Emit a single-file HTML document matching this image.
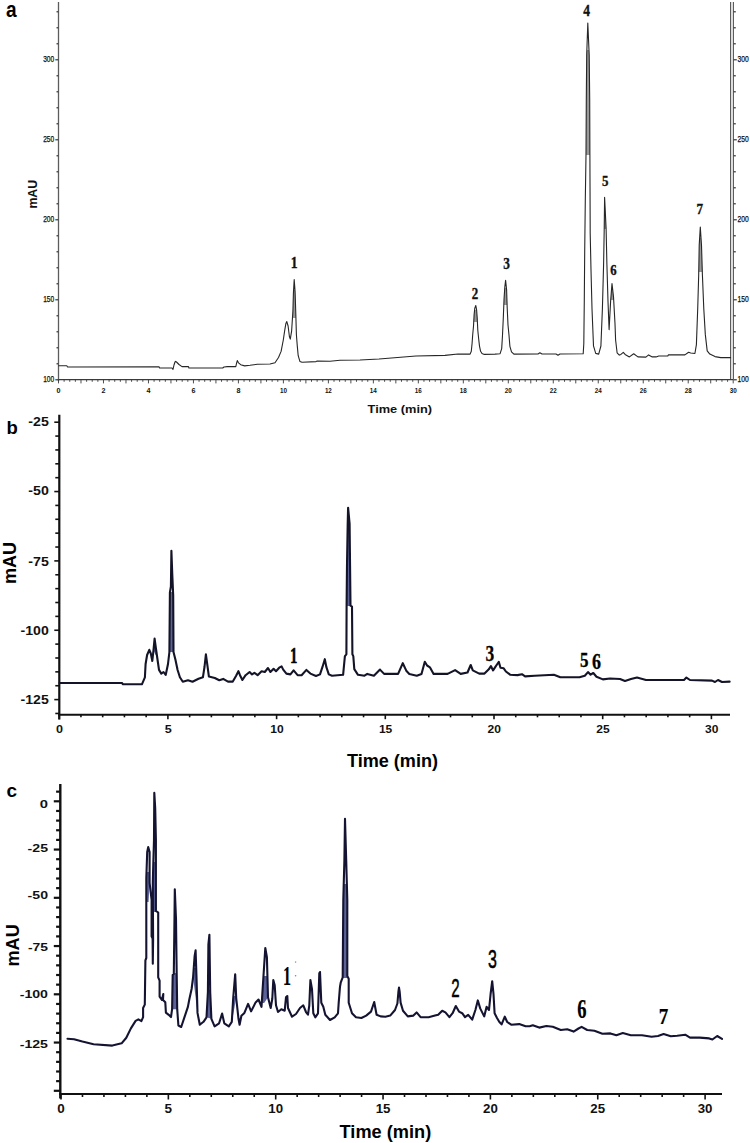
<!DOCTYPE html>
<html><head><meta charset="utf-8"><style>
html,body{margin:0;padding:0;background:#fff;}
body{width:750px;height:1143px;overflow:hidden;font-family:"Liberation Sans",sans-serif;}
svg{display:block;}
</style></head><body>
<svg width="750" height="1143" viewBox="0 0 750 1143">
<rect width="750" height="1143" fill="#fff"/>
<g id="panelA">
<line x1="58.5" y1="2" x2="58.5" y2="381.2" stroke="#5c5c5c" stroke-width="1.3"/>
<line x1="730.6" y1="2" x2="730.6" y2="379.6" stroke="#5c5c5c" stroke-width="1.2"/>
<line x1="733.4" y1="2" x2="733.4" y2="379.6" stroke="#5c5c5c" stroke-width="1.2"/>
<line x1="58.5" y1="379.6" x2="733.4" y2="379.6" stroke="#3a3a3a" stroke-width="1.1"/>
<line x1="56.5" y1="11.8" x2="58.2" y2="11.8" stroke="#222" stroke-width="1.1"/>
<line x1="733.7" y1="11.8" x2="735.8" y2="11.8" stroke="#222" stroke-width="1.1"/>
<line x1="56.5" y1="27.8" x2="58.2" y2="27.8" stroke="#222" stroke-width="1.1"/>
<line x1="733.7" y1="27.8" x2="735.8" y2="27.8" stroke="#222" stroke-width="1.1"/>
<line x1="56.5" y1="43.8" x2="58.2" y2="43.8" stroke="#222" stroke-width="1.1"/>
<line x1="733.7" y1="43.8" x2="735.8" y2="43.8" stroke="#222" stroke-width="1.1"/>
<line x1="55.3" y1="59.8" x2="58.2" y2="59.8" stroke="#222" stroke-width="1.1"/>
<line x1="733.7" y1="59.8" x2="736.8" y2="59.8" stroke="#222" stroke-width="1.1"/>
<line x1="56.5" y1="75.8" x2="58.2" y2="75.8" stroke="#222" stroke-width="1.1"/>
<line x1="733.7" y1="75.8" x2="735.8" y2="75.8" stroke="#222" stroke-width="1.1"/>
<line x1="56.5" y1="91.8" x2="58.2" y2="91.8" stroke="#222" stroke-width="1.1"/>
<line x1="733.7" y1="91.8" x2="735.8" y2="91.8" stroke="#222" stroke-width="1.1"/>
<line x1="56.5" y1="107.8" x2="58.2" y2="107.8" stroke="#222" stroke-width="1.1"/>
<line x1="733.7" y1="107.8" x2="735.8" y2="107.8" stroke="#222" stroke-width="1.1"/>
<line x1="56.5" y1="123.8" x2="58.2" y2="123.8" stroke="#222" stroke-width="1.1"/>
<line x1="733.7" y1="123.8" x2="735.8" y2="123.8" stroke="#222" stroke-width="1.1"/>
<line x1="55.3" y1="139.8" x2="58.2" y2="139.8" stroke="#222" stroke-width="1.1"/>
<line x1="733.7" y1="139.8" x2="736.8" y2="139.8" stroke="#222" stroke-width="1.1"/>
<line x1="56.5" y1="155.8" x2="58.2" y2="155.8" stroke="#222" stroke-width="1.1"/>
<line x1="733.7" y1="155.8" x2="735.8" y2="155.8" stroke="#222" stroke-width="1.1"/>
<line x1="56.5" y1="171.8" x2="58.2" y2="171.8" stroke="#222" stroke-width="1.1"/>
<line x1="733.7" y1="171.8" x2="735.8" y2="171.8" stroke="#222" stroke-width="1.1"/>
<line x1="56.5" y1="187.8" x2="58.2" y2="187.8" stroke="#222" stroke-width="1.1"/>
<line x1="733.7" y1="187.8" x2="735.8" y2="187.8" stroke="#222" stroke-width="1.1"/>
<line x1="56.5" y1="203.8" x2="58.2" y2="203.8" stroke="#222" stroke-width="1.1"/>
<line x1="733.7" y1="203.8" x2="735.8" y2="203.8" stroke="#222" stroke-width="1.1"/>
<line x1="55.3" y1="219.8" x2="58.2" y2="219.8" stroke="#222" stroke-width="1.1"/>
<line x1="733.7" y1="219.8" x2="736.8" y2="219.8" stroke="#222" stroke-width="1.1"/>
<line x1="56.5" y1="235.8" x2="58.2" y2="235.8" stroke="#222" stroke-width="1.1"/>
<line x1="733.7" y1="235.8" x2="735.8" y2="235.8" stroke="#222" stroke-width="1.1"/>
<line x1="56.5" y1="251.8" x2="58.2" y2="251.8" stroke="#222" stroke-width="1.1"/>
<line x1="733.7" y1="251.8" x2="735.8" y2="251.8" stroke="#222" stroke-width="1.1"/>
<line x1="56.5" y1="267.8" x2="58.2" y2="267.8" stroke="#222" stroke-width="1.1"/>
<line x1="733.7" y1="267.8" x2="735.8" y2="267.8" stroke="#222" stroke-width="1.1"/>
<line x1="56.5" y1="283.8" x2="58.2" y2="283.8" stroke="#222" stroke-width="1.1"/>
<line x1="733.7" y1="283.8" x2="735.8" y2="283.8" stroke="#222" stroke-width="1.1"/>
<line x1="55.3" y1="299.8" x2="58.2" y2="299.8" stroke="#222" stroke-width="1.1"/>
<line x1="733.7" y1="299.8" x2="736.8" y2="299.8" stroke="#222" stroke-width="1.1"/>
<line x1="56.5" y1="315.8" x2="58.2" y2="315.8" stroke="#222" stroke-width="1.1"/>
<line x1="733.7" y1="315.8" x2="735.8" y2="315.8" stroke="#222" stroke-width="1.1"/>
<line x1="56.5" y1="331.8" x2="58.2" y2="331.8" stroke="#222" stroke-width="1.1"/>
<line x1="733.7" y1="331.8" x2="735.8" y2="331.8" stroke="#222" stroke-width="1.1"/>
<line x1="56.5" y1="347.8" x2="58.2" y2="347.8" stroke="#222" stroke-width="1.1"/>
<line x1="733.7" y1="347.8" x2="735.8" y2="347.8" stroke="#222" stroke-width="1.1"/>
<line x1="56.5" y1="363.8" x2="58.2" y2="363.8" stroke="#222" stroke-width="1.1"/>
<line x1="733.7" y1="363.8" x2="735.8" y2="363.8" stroke="#222" stroke-width="1.1"/>
<line x1="55.3" y1="379.8" x2="58.2" y2="379.8" stroke="#222" stroke-width="1.1"/>
<line x1="733.7" y1="379.8" x2="736.8" y2="379.8" stroke="#222" stroke-width="1.1"/>
<line x1="58.5" y1="379.6" x2="58.5" y2="383.4" stroke="#3a3a3a" stroke-width="0.9"/>
<line x1="64.12" y1="379.6" x2="64.12" y2="381.8" stroke="#3a3a3a" stroke-width="0.9"/>
<line x1="69.75" y1="379.6" x2="69.75" y2="381.8" stroke="#3a3a3a" stroke-width="0.9"/>
<line x1="75.37" y1="379.6" x2="75.37" y2="381.8" stroke="#3a3a3a" stroke-width="0.9"/>
<line x1="80.99" y1="379.6" x2="80.99" y2="383.4" stroke="#3a3a3a" stroke-width="0.9"/>
<line x1="86.61" y1="379.6" x2="86.61" y2="381.8" stroke="#3a3a3a" stroke-width="0.9"/>
<line x1="92.23" y1="379.6" x2="92.23" y2="381.8" stroke="#3a3a3a" stroke-width="0.9"/>
<line x1="97.86" y1="379.6" x2="97.86" y2="381.8" stroke="#3a3a3a" stroke-width="0.9"/>
<line x1="103.48" y1="379.6" x2="103.48" y2="383.4" stroke="#3a3a3a" stroke-width="0.9"/>
<line x1="109.1" y1="379.6" x2="109.1" y2="381.8" stroke="#3a3a3a" stroke-width="0.9"/>
<line x1="114.72" y1="379.6" x2="114.72" y2="381.8" stroke="#3a3a3a" stroke-width="0.9"/>
<line x1="120.35" y1="379.6" x2="120.35" y2="381.8" stroke="#3a3a3a" stroke-width="0.9"/>
<line x1="125.97" y1="379.6" x2="125.97" y2="383.4" stroke="#3a3a3a" stroke-width="0.9"/>
<line x1="131.59" y1="379.6" x2="131.59" y2="381.8" stroke="#3a3a3a" stroke-width="0.9"/>
<line x1="137.21" y1="379.6" x2="137.21" y2="381.8" stroke="#3a3a3a" stroke-width="0.9"/>
<line x1="142.84" y1="379.6" x2="142.84" y2="381.8" stroke="#3a3a3a" stroke-width="0.9"/>
<line x1="148.46" y1="379.6" x2="148.46" y2="383.4" stroke="#3a3a3a" stroke-width="0.9"/>
<line x1="154.08" y1="379.6" x2="154.08" y2="381.8" stroke="#3a3a3a" stroke-width="0.9"/>
<line x1="159.7" y1="379.6" x2="159.7" y2="381.8" stroke="#3a3a3a" stroke-width="0.9"/>
<line x1="165.33" y1="379.6" x2="165.33" y2="381.8" stroke="#3a3a3a" stroke-width="0.9"/>
<line x1="170.95" y1="379.6" x2="170.95" y2="383.4" stroke="#3a3a3a" stroke-width="0.9"/>
<line x1="176.57" y1="379.6" x2="176.57" y2="381.8" stroke="#3a3a3a" stroke-width="0.9"/>
<line x1="182.19" y1="379.6" x2="182.19" y2="381.8" stroke="#3a3a3a" stroke-width="0.9"/>
<line x1="187.82" y1="379.6" x2="187.82" y2="381.8" stroke="#3a3a3a" stroke-width="0.9"/>
<line x1="193.44" y1="379.6" x2="193.44" y2="383.4" stroke="#3a3a3a" stroke-width="0.9"/>
<line x1="199.06" y1="379.6" x2="199.06" y2="381.8" stroke="#3a3a3a" stroke-width="0.9"/>
<line x1="204.69" y1="379.6" x2="204.69" y2="381.8" stroke="#3a3a3a" stroke-width="0.9"/>
<line x1="210.31" y1="379.6" x2="210.31" y2="381.8" stroke="#3a3a3a" stroke-width="0.9"/>
<line x1="215.93" y1="379.6" x2="215.93" y2="383.4" stroke="#3a3a3a" stroke-width="0.9"/>
<line x1="221.55" y1="379.6" x2="221.55" y2="381.8" stroke="#3a3a3a" stroke-width="0.9"/>
<line x1="227.17" y1="379.6" x2="227.17" y2="381.8" stroke="#3a3a3a" stroke-width="0.9"/>
<line x1="232.8" y1="379.6" x2="232.8" y2="381.8" stroke="#3a3a3a" stroke-width="0.9"/>
<line x1="238.42" y1="379.6" x2="238.42" y2="383.4" stroke="#3a3a3a" stroke-width="0.9"/>
<line x1="244.04" y1="379.6" x2="244.04" y2="381.8" stroke="#3a3a3a" stroke-width="0.9"/>
<line x1="249.66" y1="379.6" x2="249.66" y2="381.8" stroke="#3a3a3a" stroke-width="0.9"/>
<line x1="255.29" y1="379.6" x2="255.29" y2="381.8" stroke="#3a3a3a" stroke-width="0.9"/>
<line x1="260.91" y1="379.6" x2="260.91" y2="383.4" stroke="#3a3a3a" stroke-width="0.9"/>
<line x1="266.53" y1="379.6" x2="266.53" y2="381.8" stroke="#3a3a3a" stroke-width="0.9"/>
<line x1="272.15" y1="379.6" x2="272.15" y2="381.8" stroke="#3a3a3a" stroke-width="0.9"/>
<line x1="277.78" y1="379.6" x2="277.78" y2="381.8" stroke="#3a3a3a" stroke-width="0.9"/>
<line x1="283.4" y1="379.6" x2="283.4" y2="383.4" stroke="#3a3a3a" stroke-width="0.9"/>
<line x1="289.02" y1="379.6" x2="289.02" y2="381.8" stroke="#3a3a3a" stroke-width="0.9"/>
<line x1="294.64" y1="379.6" x2="294.64" y2="381.8" stroke="#3a3a3a" stroke-width="0.9"/>
<line x1="300.27" y1="379.6" x2="300.27" y2="381.8" stroke="#3a3a3a" stroke-width="0.9"/>
<line x1="305.89" y1="379.6" x2="305.89" y2="383.4" stroke="#3a3a3a" stroke-width="0.9"/>
<line x1="311.51" y1="379.6" x2="311.51" y2="381.8" stroke="#3a3a3a" stroke-width="0.9"/>
<line x1="317.13" y1="379.6" x2="317.13" y2="381.8" stroke="#3a3a3a" stroke-width="0.9"/>
<line x1="322.76" y1="379.6" x2="322.76" y2="381.8" stroke="#3a3a3a" stroke-width="0.9"/>
<line x1="328.38" y1="379.6" x2="328.38" y2="383.4" stroke="#3a3a3a" stroke-width="0.9"/>
<line x1="334" y1="379.6" x2="334" y2="381.8" stroke="#3a3a3a" stroke-width="0.9"/>
<line x1="339.62" y1="379.6" x2="339.62" y2="381.8" stroke="#3a3a3a" stroke-width="0.9"/>
<line x1="345.25" y1="379.6" x2="345.25" y2="381.8" stroke="#3a3a3a" stroke-width="0.9"/>
<line x1="350.87" y1="379.6" x2="350.87" y2="383.4" stroke="#3a3a3a" stroke-width="0.9"/>
<line x1="356.49" y1="379.6" x2="356.49" y2="381.8" stroke="#3a3a3a" stroke-width="0.9"/>
<line x1="362.11" y1="379.6" x2="362.11" y2="381.8" stroke="#3a3a3a" stroke-width="0.9"/>
<line x1="367.74" y1="379.6" x2="367.74" y2="381.8" stroke="#3a3a3a" stroke-width="0.9"/>
<line x1="373.36" y1="379.6" x2="373.36" y2="383.4" stroke="#3a3a3a" stroke-width="0.9"/>
<line x1="378.98" y1="379.6" x2="378.98" y2="381.8" stroke="#3a3a3a" stroke-width="0.9"/>
<line x1="384.6" y1="379.6" x2="384.6" y2="381.8" stroke="#3a3a3a" stroke-width="0.9"/>
<line x1="390.23" y1="379.6" x2="390.23" y2="381.8" stroke="#3a3a3a" stroke-width="0.9"/>
<line x1="395.85" y1="379.6" x2="395.85" y2="383.4" stroke="#3a3a3a" stroke-width="0.9"/>
<line x1="401.47" y1="379.6" x2="401.47" y2="381.8" stroke="#3a3a3a" stroke-width="0.9"/>
<line x1="407.09" y1="379.6" x2="407.09" y2="381.8" stroke="#3a3a3a" stroke-width="0.9"/>
<line x1="412.72" y1="379.6" x2="412.72" y2="381.8" stroke="#3a3a3a" stroke-width="0.9"/>
<line x1="418.34" y1="379.6" x2="418.34" y2="383.4" stroke="#3a3a3a" stroke-width="0.9"/>
<line x1="423.96" y1="379.6" x2="423.96" y2="381.8" stroke="#3a3a3a" stroke-width="0.9"/>
<line x1="429.58" y1="379.6" x2="429.58" y2="381.8" stroke="#3a3a3a" stroke-width="0.9"/>
<line x1="435.21" y1="379.6" x2="435.21" y2="381.8" stroke="#3a3a3a" stroke-width="0.9"/>
<line x1="440.83" y1="379.6" x2="440.83" y2="383.4" stroke="#3a3a3a" stroke-width="0.9"/>
<line x1="446.45" y1="379.6" x2="446.45" y2="381.8" stroke="#3a3a3a" stroke-width="0.9"/>
<line x1="452.07" y1="379.6" x2="452.07" y2="381.8" stroke="#3a3a3a" stroke-width="0.9"/>
<line x1="457.7" y1="379.6" x2="457.7" y2="381.8" stroke="#3a3a3a" stroke-width="0.9"/>
<line x1="463.32" y1="379.6" x2="463.32" y2="383.4" stroke="#3a3a3a" stroke-width="0.9"/>
<line x1="468.94" y1="379.6" x2="468.94" y2="381.8" stroke="#3a3a3a" stroke-width="0.9"/>
<line x1="474.56" y1="379.6" x2="474.56" y2="381.8" stroke="#3a3a3a" stroke-width="0.9"/>
<line x1="480.19" y1="379.6" x2="480.19" y2="381.8" stroke="#3a3a3a" stroke-width="0.9"/>
<line x1="485.81" y1="379.6" x2="485.81" y2="383.4" stroke="#3a3a3a" stroke-width="0.9"/>
<line x1="491.43" y1="379.6" x2="491.43" y2="381.8" stroke="#3a3a3a" stroke-width="0.9"/>
<line x1="497.05" y1="379.6" x2="497.05" y2="381.8" stroke="#3a3a3a" stroke-width="0.9"/>
<line x1="502.68" y1="379.6" x2="502.68" y2="381.8" stroke="#3a3a3a" stroke-width="0.9"/>
<line x1="508.3" y1="379.6" x2="508.3" y2="383.4" stroke="#3a3a3a" stroke-width="0.9"/>
<line x1="513.92" y1="379.6" x2="513.92" y2="381.8" stroke="#3a3a3a" stroke-width="0.9"/>
<line x1="519.54" y1="379.6" x2="519.54" y2="381.8" stroke="#3a3a3a" stroke-width="0.9"/>
<line x1="525.17" y1="379.6" x2="525.17" y2="381.8" stroke="#3a3a3a" stroke-width="0.9"/>
<line x1="530.79" y1="379.6" x2="530.79" y2="383.4" stroke="#3a3a3a" stroke-width="0.9"/>
<line x1="536.41" y1="379.6" x2="536.41" y2="381.8" stroke="#3a3a3a" stroke-width="0.9"/>
<line x1="542.03" y1="379.6" x2="542.03" y2="381.8" stroke="#3a3a3a" stroke-width="0.9"/>
<line x1="547.66" y1="379.6" x2="547.66" y2="381.8" stroke="#3a3a3a" stroke-width="0.9"/>
<line x1="553.28" y1="379.6" x2="553.28" y2="383.4" stroke="#3a3a3a" stroke-width="0.9"/>
<line x1="558.9" y1="379.6" x2="558.9" y2="381.8" stroke="#3a3a3a" stroke-width="0.9"/>
<line x1="564.52" y1="379.6" x2="564.52" y2="381.8" stroke="#3a3a3a" stroke-width="0.9"/>
<line x1="570.15" y1="379.6" x2="570.15" y2="381.8" stroke="#3a3a3a" stroke-width="0.9"/>
<line x1="575.77" y1="379.6" x2="575.77" y2="383.4" stroke="#3a3a3a" stroke-width="0.9"/>
<line x1="581.39" y1="379.6" x2="581.39" y2="381.8" stroke="#3a3a3a" stroke-width="0.9"/>
<line x1="587.01" y1="379.6" x2="587.01" y2="381.8" stroke="#3a3a3a" stroke-width="0.9"/>
<line x1="592.64" y1="379.6" x2="592.64" y2="381.8" stroke="#3a3a3a" stroke-width="0.9"/>
<line x1="598.26" y1="379.6" x2="598.26" y2="383.4" stroke="#3a3a3a" stroke-width="0.9"/>
<line x1="603.88" y1="379.6" x2="603.88" y2="381.8" stroke="#3a3a3a" stroke-width="0.9"/>
<line x1="609.5" y1="379.6" x2="609.5" y2="381.8" stroke="#3a3a3a" stroke-width="0.9"/>
<line x1="615.13" y1="379.6" x2="615.13" y2="381.8" stroke="#3a3a3a" stroke-width="0.9"/>
<line x1="620.75" y1="379.6" x2="620.75" y2="383.4" stroke="#3a3a3a" stroke-width="0.9"/>
<line x1="626.37" y1="379.6" x2="626.37" y2="381.8" stroke="#3a3a3a" stroke-width="0.9"/>
<line x1="632" y1="379.6" x2="632" y2="381.8" stroke="#3a3a3a" stroke-width="0.9"/>
<line x1="637.62" y1="379.6" x2="637.62" y2="381.8" stroke="#3a3a3a" stroke-width="0.9"/>
<line x1="643.24" y1="379.6" x2="643.24" y2="383.4" stroke="#3a3a3a" stroke-width="0.9"/>
<line x1="648.86" y1="379.6" x2="648.86" y2="381.8" stroke="#3a3a3a" stroke-width="0.9"/>
<line x1="654.49" y1="379.6" x2="654.49" y2="381.8" stroke="#3a3a3a" stroke-width="0.9"/>
<line x1="660.11" y1="379.6" x2="660.11" y2="381.8" stroke="#3a3a3a" stroke-width="0.9"/>
<line x1="665.73" y1="379.6" x2="665.73" y2="383.4" stroke="#3a3a3a" stroke-width="0.9"/>
<line x1="671.35" y1="379.6" x2="671.35" y2="381.8" stroke="#3a3a3a" stroke-width="0.9"/>
<line x1="676.97" y1="379.6" x2="676.97" y2="381.8" stroke="#3a3a3a" stroke-width="0.9"/>
<line x1="682.6" y1="379.6" x2="682.6" y2="381.8" stroke="#3a3a3a" stroke-width="0.9"/>
<line x1="688.22" y1="379.6" x2="688.22" y2="383.4" stroke="#3a3a3a" stroke-width="0.9"/>
<line x1="693.84" y1="379.6" x2="693.84" y2="381.8" stroke="#3a3a3a" stroke-width="0.9"/>
<line x1="699.46" y1="379.6" x2="699.46" y2="381.8" stroke="#3a3a3a" stroke-width="0.9"/>
<line x1="705.09" y1="379.6" x2="705.09" y2="381.8" stroke="#3a3a3a" stroke-width="0.9"/>
<line x1="710.71" y1="379.6" x2="710.71" y2="383.4" stroke="#3a3a3a" stroke-width="0.9"/>
<line x1="716.33" y1="379.6" x2="716.33" y2="381.8" stroke="#3a3a3a" stroke-width="0.9"/>
<line x1="721.95" y1="379.6" x2="721.95" y2="381.8" stroke="#3a3a3a" stroke-width="0.9"/>
<line x1="727.58" y1="379.6" x2="727.58" y2="381.8" stroke="#3a3a3a" stroke-width="0.9"/>
<line x1="733.2" y1="379.6" x2="733.2" y2="383.4" stroke="#3a3a3a" stroke-width="0.9"/>
<text x="54.2" y="62.4" font-family="Liberation Sans" font-size="8.4" font-weight="normal" text-anchor="end" fill="#111" textLength="11" lengthAdjust="spacingAndGlyphs" stroke="#111" stroke-width="0.25">300</text>
<text x="737.5" y="62.4" font-family="Liberation Sans" font-size="8.4" font-weight="normal" text-anchor="start" fill="#111" textLength="11.2" lengthAdjust="spacingAndGlyphs" stroke="#111" stroke-width="0.25">300</text>
<text x="54.2" y="142.4" font-family="Liberation Sans" font-size="8.4" font-weight="normal" text-anchor="end" fill="#111" textLength="11" lengthAdjust="spacingAndGlyphs" stroke="#111" stroke-width="0.25">250</text>
<text x="737.5" y="142.4" font-family="Liberation Sans" font-size="8.4" font-weight="normal" text-anchor="start" fill="#111" textLength="11.2" lengthAdjust="spacingAndGlyphs" stroke="#111" stroke-width="0.25">250</text>
<text x="54.2" y="222.4" font-family="Liberation Sans" font-size="8.4" font-weight="normal" text-anchor="end" fill="#111" textLength="11" lengthAdjust="spacingAndGlyphs" stroke="#111" stroke-width="0.25">200</text>
<text x="737.5" y="222.4" font-family="Liberation Sans" font-size="8.4" font-weight="normal" text-anchor="start" fill="#111" textLength="11.2" lengthAdjust="spacingAndGlyphs" stroke="#111" stroke-width="0.25">200</text>
<text x="54.2" y="302.4" font-family="Liberation Sans" font-size="8.4" font-weight="normal" text-anchor="end" fill="#111" textLength="11" lengthAdjust="spacingAndGlyphs" stroke="#111" stroke-width="0.25">150</text>
<text x="737.5" y="302.4" font-family="Liberation Sans" font-size="8.4" font-weight="normal" text-anchor="start" fill="#111" textLength="11.2" lengthAdjust="spacingAndGlyphs" stroke="#111" stroke-width="0.25">150</text>
<text x="54.2" y="382.4" font-family="Liberation Sans" font-size="8.4" font-weight="normal" text-anchor="end" fill="#111" textLength="11" lengthAdjust="spacingAndGlyphs" stroke="#111" stroke-width="0.25">100</text>
<text x="737.5" y="382.4" font-family="Liberation Sans" font-size="8.4" font-weight="normal" text-anchor="start" fill="#111" textLength="11.2" lengthAdjust="spacingAndGlyphs" stroke="#111" stroke-width="0.25">100</text>
<text x="58.5" y="393.2" font-family="Liberation Sans" font-size="7.6" font-weight="bold" text-anchor="middle" fill="#111" textLength="4" lengthAdjust="spacingAndGlyphs" >0</text>
<text x="103.48" y="393.2" font-family="Liberation Sans" font-size="7.6" font-weight="bold" text-anchor="middle" fill="#111" textLength="4" lengthAdjust="spacingAndGlyphs" >2</text>
<text x="148.46" y="393.2" font-family="Liberation Sans" font-size="7.6" font-weight="bold" text-anchor="middle" fill="#111" textLength="4" lengthAdjust="spacingAndGlyphs" >4</text>
<text x="193.44" y="393.2" font-family="Liberation Sans" font-size="7.6" font-weight="bold" text-anchor="middle" fill="#111" textLength="4" lengthAdjust="spacingAndGlyphs" >6</text>
<text x="238.42" y="393.2" font-family="Liberation Sans" font-size="7.6" font-weight="bold" text-anchor="middle" fill="#111" textLength="4" lengthAdjust="spacingAndGlyphs" >8</text>
<text x="283.4" y="393.2" font-family="Liberation Sans" font-size="7.6" font-weight="bold" text-anchor="middle" fill="#111" textLength="7" lengthAdjust="spacingAndGlyphs" >10</text>
<text x="328.38" y="393.2" font-family="Liberation Sans" font-size="7.6" font-weight="bold" text-anchor="middle" fill="#111" textLength="7" lengthAdjust="spacingAndGlyphs" >12</text>
<text x="373.36" y="393.2" font-family="Liberation Sans" font-size="7.6" font-weight="bold" text-anchor="middle" fill="#111" textLength="7" lengthAdjust="spacingAndGlyphs" >14</text>
<text x="418.34" y="393.2" font-family="Liberation Sans" font-size="7.6" font-weight="bold" text-anchor="middle" fill="#111" textLength="7" lengthAdjust="spacingAndGlyphs" >16</text>
<text x="463.32" y="393.2" font-family="Liberation Sans" font-size="7.6" font-weight="bold" text-anchor="middle" fill="#111" textLength="7" lengthAdjust="spacingAndGlyphs" >18</text>
<text x="508.3" y="393.2" font-family="Liberation Sans" font-size="7.6" font-weight="bold" text-anchor="middle" fill="#111" textLength="7" lengthAdjust="spacingAndGlyphs" >20</text>
<text x="553.28" y="393.2" font-family="Liberation Sans" font-size="7.6" font-weight="bold" text-anchor="middle" fill="#111" textLength="7" lengthAdjust="spacingAndGlyphs" >22</text>
<text x="598.26" y="393.2" font-family="Liberation Sans" font-size="7.6" font-weight="bold" text-anchor="middle" fill="#111" textLength="7" lengthAdjust="spacingAndGlyphs" >24</text>
<text x="643.24" y="393.2" font-family="Liberation Sans" font-size="7.6" font-weight="bold" text-anchor="middle" fill="#111" textLength="7" lengthAdjust="spacingAndGlyphs" >26</text>
<text x="688.22" y="393.2" font-family="Liberation Sans" font-size="7.6" font-weight="bold" text-anchor="middle" fill="#111" textLength="7" lengthAdjust="spacingAndGlyphs" >28</text>
<text x="733.2" y="393.2" font-family="Liberation Sans" font-size="7.6" font-weight="bold" text-anchor="middle" fill="#111" textLength="7" lengthAdjust="spacingAndGlyphs" >30</text>
<text x="399.8" y="412.9" font-family="Liberation Sans" font-size="11.8" font-weight="bold" text-anchor="middle" fill="#111" textLength="64.5" lengthAdjust="spacingAndGlyphs" >Time (min)</text>
<text x="37" y="194.2" font-family="Liberation Sans" font-size="12.8" font-weight="bold" text-anchor="middle" fill="#111" textLength="28.8" lengthAdjust="spacingAndGlyphs" transform="rotate(-90 37 194.2)" >mAU</text>
<text x="6" y="16.8" font-family="Liberation Sans" font-size="21.8" font-weight="bold" text-anchor="start" fill="#000" textLength="10.6" lengthAdjust="spacingAndGlyphs" >a</text>
<clipPath id="cp1"><rect x="580" y="50" width="18" height="105"/></clipPath>
<path d="M583.2,353.8 L583.8,343.7 L584.3,300 L584.7,251.9 L585.3,200 L586,155 L586.3,100 L586.7,55 L587.8,23.1 L589.2,55 L589.7,100 L589.9,155 L590.2,233.5 L591,270 L592,308.8 L593.5,345.9 L595.7,353.4 Z" fill="#9a9a9a" fill-opacity="1.0" stroke="none" clip-path="url(#cp1)"/>
<clipPath id="cp2"><rect x="598.8" y="200" width="10.2" height="29"/></clipPath>
<path d="M600.9,346 L602.4,308.8 L603.6,264.3 L604.2,230.1 L604.6,197.4 L606.1,228.6 L606.9,264.3 L608,301.4 Z" fill="#9a9a9a" fill-opacity="1.0" stroke="none" clip-path="url(#cp2)"/>
<clipPath id="cp3"><rect x="609.2" y="288" width="8.8" height="12"/></clipPath>
<path d="M610.6,301.4 L612,283.6 L613.5,296.9 L615,323.7 L615.6,340 L617.1,352.8 Z" fill="#9a9a9a" fill-opacity="1.0" stroke="none" clip-path="url(#cp3)"/>
<clipPath id="cp4"><rect x="690" y="238" width="22" height="34"/></clipPath>
<path d="M690.7,353 L694.9,353.5 L696.4,344.6 L697.7,309 L698.7,274.7 L699.2,245.4 L700.3,227 L701.5,245.4 L702.4,274.7 L703.8,309 L705.3,334.4 L707.2,350.9 L709.8,354.1 Z" fill="#9a9a9a" fill-opacity="1.0" stroke="none" clip-path="url(#cp4)"/>
<clipPath id="cp5"><rect x="498" y="288" width="17" height="17"/></clipPath>
<path d="M500.1,353.7 L501.7,348.6 L502.5,335.3 L503.3,318 L504,299.9 L504.8,287.3 L505.6,280.2 L506.6,289.7 L507.2,307.7 L508,325 L509,335.3 L509.9,346.3 L511.5,351.8 L513.9,354.1 Z" fill="#9a9a9a" fill-opacity="1.0" stroke="none" clip-path="url(#cp5)"/>
<clipPath id="cp6"><rect x="468" y="310" width="18" height="12"/></clipPath>
<path d="M470.1,354.1 L471.3,351.3 L472.1,343.3 L472.7,334.8 L473.5,326.3 L474.1,314.9 L474.8,308.1 L475.8,305.5 L476.6,309.8 L477.2,317.7 L477.8,330.2 L478.6,338.2 L479.5,346.1 L480.6,351.3 L482,353.5 L484.3,354.4 Z" fill="#9a9a9a" fill-opacity="1.0" stroke="none" clip-path="url(#cp6)"/>
<clipPath id="cp7"><rect x="290.3" y="290" width="11.7" height="28"/></clipPath>
<path d="M290.3,339.1 L291.6,331.2 L292.9,311.1 L293.4,293.6 L294.2,279.6 L295.1,291.9 L295.8,313.7 L296.4,334.7 L297.3,346.1 L298.2,355.7 L299.9,361.4 Z" fill="#9a9a9a" fill-opacity="1.0" stroke="none" clip-path="url(#cp7)"/>
<path d="M58.8,365.8 L66.8,365.8 L67.6,367 L159,366.8 L159.6,368 L172,368 L173,369.4 L174,365 L175,362 L175.7,361.3 L177,362.5 L179,364.5 L182,366.6 L188.5,366.6 L188.9,368 L222.7,368 L224,367 L227.3,366.6 L235.8,366.6 L236.5,363.5 L237.3,360.6 L238.5,362.8 L240.7,364.7 L244.7,365.9 L250,365.3 L257.3,364.3 L270,364 L275,362.7 L278.5,357.5 L281.1,351.4 L283.3,340 L284.6,331.2 L285.9,323.4 L286.8,321.6 L288.1,326 L289.4,336.5 L290.3,339.1 L291.6,331.2 L292.9,311.1 L293.4,293.6 L294.2,279.6 L295.1,291.9 L295.8,313.7 L296.4,334.7 L297.3,346.1 L298.2,355.7 L299.9,361.4 L302.1,362.3 L316,361.6 L317.3,361 L330,361.2 L340,360.3 L360,360 L379,359 L416,356 L445,355.4 L458,354 L465,354.1 L470.1,354.1 L471.3,351.3 L472.1,343.3 L472.7,334.8 L473.5,326.3 L474.1,314.9 L474.8,308.1 L475.8,305.5 L476.6,309.8 L477.2,317.7 L477.8,330.2 L478.6,338.2 L479.5,346.1 L480.6,351.3 L482,353.5 L484.3,354.4 L495,354.1 L500.1,353.7 L501.7,348.6 L502.5,335.3 L503.3,318 L504,299.9 L504.8,287.3 L505.6,280.2 L506.6,289.7 L507.2,307.7 L508,325 L509,335.3 L509.9,346.3 L511.5,351.8 L513.9,354.1 L538,354 L539.9,352.7 L542,354 L556,354 L558,355.3 L560,354 L583.2,353.8 L583.8,343.7 L584.3,300 L584.7,251.9 L585.3,200 L586,155 L586.3,100 L586.7,55 L587.8,23.1 L589.2,55 L589.7,100 L589.9,155 L590.2,233.5 L591,270 L592,308.8 L593.5,345.9 L595.7,353.4 L598.7,354.1 L600.9,346 L602.4,308.8 L603.6,264.3 L604.2,230.1 L604.6,197.4 L606.1,228.6 L606.9,264.3 L608,301.4 L609.1,329.6 L610.6,301.4 L612,283.6 L613.5,296.9 L615,323.7 L615.6,340 L617.1,352.8 L619.3,355.1 L620.9,354.4 L623.3,352.3 L625.1,354.4 L629.4,356.9 L633.7,353.7 L637.9,356.9 L645.9,357.1 L648.6,354.9 L652.3,356.9 L656.1,356.9 L658.7,356 L667.8,356 L668.3,354.9 L684.9,354.9 L688.6,352.3 L690.7,353 L694.9,353.5 L696.4,344.6 L697.7,309 L698.7,274.7 L699.2,245.4 L700.3,227 L701.5,245.4 L702.4,274.7 L703.8,309 L705.3,334.4 L707.2,350.9 L709.8,354.1 L715,356.6 L720.8,357.6 L730.6,357.6" fill="none" stroke="#262626" stroke-width="1.1" stroke-linejoin="round" stroke-linecap="round" />
<text x="294.3" y="267.7" font-family="Liberation Serif" font-size="15.67" font-weight="bold" text-anchor="middle" fill="#111" textLength="6.86" lengthAdjust="spacingAndGlyphs" stroke="#111" stroke-width="0.35">1</text>
<text x="474.9" y="298.6" font-family="Liberation Serif" font-size="15.82" font-weight="bold" text-anchor="middle" fill="#111" textLength="6.47" lengthAdjust="spacingAndGlyphs" stroke="#111" stroke-width="0.35">2</text>
<text x="506.6" y="269.4" font-family="Liberation Serif" font-size="16.12" font-weight="bold" text-anchor="middle" fill="#111" textLength="6.66" lengthAdjust="spacingAndGlyphs" stroke="#111" stroke-width="0.35">3</text>
<text x="586.55" y="15.5" font-family="Liberation Serif" font-size="16.42" font-weight="bold" text-anchor="middle" fill="#111" textLength="6.76" lengthAdjust="spacingAndGlyphs" stroke="#111" stroke-width="0.35">4</text>
<text x="605.3" y="185.9" font-family="Liberation Serif" font-size="15.07" font-weight="bold" text-anchor="middle" fill="#111" textLength="6.47" lengthAdjust="spacingAndGlyphs" stroke="#111" stroke-width="0.35">5</text>
<text x="613.35" y="275" font-family="Liberation Serif" font-size="14.18" font-weight="bold" text-anchor="middle" fill="#111" textLength="6.37" lengthAdjust="spacingAndGlyphs" stroke="#111" stroke-width="0.35">6</text>
<text x="699.85" y="213.9" font-family="Liberation Serif" font-size="15.07" font-weight="bold" text-anchor="middle" fill="#111" textLength="6.57" lengthAdjust="spacingAndGlyphs" stroke="#111" stroke-width="0.35">7</text>
</g>
<g id="panelB">
<line x1="59.3" y1="414.7" x2="59.3" y2="719.5" stroke="#111" stroke-width="2.2"/>
<line x1="58.2" y1="714.7" x2="730" y2="714.7" stroke="#111" stroke-width="2.0"/>
<line x1="54.3" y1="422.2" x2="59.3" y2="422.2" stroke="#111" stroke-width="1.6"/>
<line x1="55.3" y1="436.07" x2="59.3" y2="436.07" stroke="#111" stroke-width="1.6"/>
<line x1="55.3" y1="449.94" x2="59.3" y2="449.94" stroke="#111" stroke-width="1.6"/>
<line x1="55.3" y1="463.81" x2="59.3" y2="463.81" stroke="#111" stroke-width="1.6"/>
<line x1="55.3" y1="477.68" x2="59.3" y2="477.68" stroke="#111" stroke-width="1.6"/>
<line x1="54.3" y1="491.55" x2="59.3" y2="491.55" stroke="#111" stroke-width="1.6"/>
<line x1="55.3" y1="505.42" x2="59.3" y2="505.42" stroke="#111" stroke-width="1.6"/>
<line x1="55.3" y1="519.29" x2="59.3" y2="519.29" stroke="#111" stroke-width="1.6"/>
<line x1="55.3" y1="533.16" x2="59.3" y2="533.16" stroke="#111" stroke-width="1.6"/>
<line x1="55.3" y1="547.03" x2="59.3" y2="547.03" stroke="#111" stroke-width="1.6"/>
<line x1="54.3" y1="560.9" x2="59.3" y2="560.9" stroke="#111" stroke-width="1.6"/>
<line x1="55.3" y1="574.77" x2="59.3" y2="574.77" stroke="#111" stroke-width="1.6"/>
<line x1="55.3" y1="588.64" x2="59.3" y2="588.64" stroke="#111" stroke-width="1.6"/>
<line x1="55.3" y1="602.51" x2="59.3" y2="602.51" stroke="#111" stroke-width="1.6"/>
<line x1="55.3" y1="616.38" x2="59.3" y2="616.38" stroke="#111" stroke-width="1.6"/>
<line x1="54.3" y1="630.25" x2="59.3" y2="630.25" stroke="#111" stroke-width="1.6"/>
<line x1="55.3" y1="644.12" x2="59.3" y2="644.12" stroke="#111" stroke-width="1.6"/>
<line x1="55.3" y1="657.99" x2="59.3" y2="657.99" stroke="#111" stroke-width="1.6"/>
<line x1="55.3" y1="671.86" x2="59.3" y2="671.86" stroke="#111" stroke-width="1.6"/>
<line x1="55.3" y1="685.73" x2="59.3" y2="685.73" stroke="#111" stroke-width="1.6"/>
<line x1="54.3" y1="699.6" x2="59.3" y2="699.6" stroke="#111" stroke-width="1.6"/>
<line x1="55.3" y1="713.47" x2="59.3" y2="713.47" stroke="#111" stroke-width="1.6"/>
<line x1="59.2" y1="714.7" x2="59.2" y2="719.2" stroke="#111" stroke-width="1.6"/>
<line x1="80.94" y1="714.7" x2="80.94" y2="717.3" stroke="#111" stroke-width="1.6"/>
<line x1="102.68" y1="714.7" x2="102.68" y2="717.3" stroke="#111" stroke-width="1.6"/>
<line x1="124.42" y1="714.7" x2="124.42" y2="717.3" stroke="#111" stroke-width="1.6"/>
<line x1="146.16" y1="714.7" x2="146.16" y2="717.3" stroke="#111" stroke-width="1.6"/>
<line x1="167.9" y1="714.7" x2="167.9" y2="719.2" stroke="#111" stroke-width="1.6"/>
<line x1="189.64" y1="714.7" x2="189.64" y2="717.3" stroke="#111" stroke-width="1.6"/>
<line x1="211.38" y1="714.7" x2="211.38" y2="717.3" stroke="#111" stroke-width="1.6"/>
<line x1="233.12" y1="714.7" x2="233.12" y2="717.3" stroke="#111" stroke-width="1.6"/>
<line x1="254.86" y1="714.7" x2="254.86" y2="717.3" stroke="#111" stroke-width="1.6"/>
<line x1="276.6" y1="714.7" x2="276.6" y2="719.2" stroke="#111" stroke-width="1.6"/>
<line x1="298.34" y1="714.7" x2="298.34" y2="717.3" stroke="#111" stroke-width="1.6"/>
<line x1="320.08" y1="714.7" x2="320.08" y2="717.3" stroke="#111" stroke-width="1.6"/>
<line x1="341.82" y1="714.7" x2="341.82" y2="717.3" stroke="#111" stroke-width="1.6"/>
<line x1="363.56" y1="714.7" x2="363.56" y2="717.3" stroke="#111" stroke-width="1.6"/>
<line x1="385.3" y1="714.7" x2="385.3" y2="719.2" stroke="#111" stroke-width="1.6"/>
<line x1="407.04" y1="714.7" x2="407.04" y2="717.3" stroke="#111" stroke-width="1.6"/>
<line x1="428.78" y1="714.7" x2="428.78" y2="717.3" stroke="#111" stroke-width="1.6"/>
<line x1="450.52" y1="714.7" x2="450.52" y2="717.3" stroke="#111" stroke-width="1.6"/>
<line x1="472.26" y1="714.7" x2="472.26" y2="717.3" stroke="#111" stroke-width="1.6"/>
<line x1="494" y1="714.7" x2="494" y2="719.2" stroke="#111" stroke-width="1.6"/>
<line x1="515.74" y1="714.7" x2="515.74" y2="717.3" stroke="#111" stroke-width="1.6"/>
<line x1="537.48" y1="714.7" x2="537.48" y2="717.3" stroke="#111" stroke-width="1.6"/>
<line x1="559.22" y1="714.7" x2="559.22" y2="717.3" stroke="#111" stroke-width="1.6"/>
<line x1="580.96" y1="714.7" x2="580.96" y2="717.3" stroke="#111" stroke-width="1.6"/>
<line x1="602.7" y1="714.7" x2="602.7" y2="719.2" stroke="#111" stroke-width="1.6"/>
<line x1="624.44" y1="714.7" x2="624.44" y2="717.3" stroke="#111" stroke-width="1.6"/>
<line x1="646.18" y1="714.7" x2="646.18" y2="717.3" stroke="#111" stroke-width="1.6"/>
<line x1="667.92" y1="714.7" x2="667.92" y2="717.3" stroke="#111" stroke-width="1.6"/>
<line x1="689.66" y1="714.7" x2="689.66" y2="717.3" stroke="#111" stroke-width="1.6"/>
<line x1="711.4" y1="714.7" x2="711.4" y2="719.2" stroke="#111" stroke-width="1.6"/>
<text x="48.8" y="426.2" font-family="Liberation Sans" font-size="13" font-weight="bold" text-anchor="end" fill="#111" textLength="20.5" lengthAdjust="spacingAndGlyphs" >-25</text>
<text x="48.8" y="494.6" font-family="Liberation Sans" font-size="13" font-weight="bold" text-anchor="end" fill="#111" textLength="20.5" lengthAdjust="spacingAndGlyphs" >-50</text>
<text x="48.8" y="565.9" font-family="Liberation Sans" font-size="13" font-weight="bold" text-anchor="end" fill="#111" textLength="20.5" lengthAdjust="spacingAndGlyphs" >-75</text>
<text x="48.8" y="635.4" font-family="Liberation Sans" font-size="13" font-weight="bold" text-anchor="end" fill="#111" textLength="28.2" lengthAdjust="spacingAndGlyphs" >-100</text>
<text x="48.8" y="704.2" font-family="Liberation Sans" font-size="13" font-weight="bold" text-anchor="end" fill="#111" textLength="28.2" lengthAdjust="spacingAndGlyphs" >-125</text>
<text x="59.5" y="733" font-family="Liberation Sans" font-size="11.6" font-weight="bold" text-anchor="middle" fill="#111" textLength="7" lengthAdjust="spacingAndGlyphs" >0</text>
<text x="168.2" y="733" font-family="Liberation Sans" font-size="11.6" font-weight="bold" text-anchor="middle" fill="#111" textLength="7" lengthAdjust="spacingAndGlyphs" >5</text>
<text x="276.9" y="733" font-family="Liberation Sans" font-size="11.6" font-weight="bold" text-anchor="middle" fill="#111" textLength="13.4" lengthAdjust="spacingAndGlyphs" >10</text>
<text x="385.6" y="733" font-family="Liberation Sans" font-size="11.6" font-weight="bold" text-anchor="middle" fill="#111" textLength="13.4" lengthAdjust="spacingAndGlyphs" >15</text>
<text x="494.3" y="733" font-family="Liberation Sans" font-size="11.6" font-weight="bold" text-anchor="middle" fill="#111" textLength="13.4" lengthAdjust="spacingAndGlyphs" >20</text>
<text x="603" y="733" font-family="Liberation Sans" font-size="11.6" font-weight="bold" text-anchor="middle" fill="#111" textLength="13.4" lengthAdjust="spacingAndGlyphs" >25</text>
<text x="711.7" y="733" font-family="Liberation Sans" font-size="11.6" font-weight="bold" text-anchor="middle" fill="#111" textLength="13.4" lengthAdjust="spacingAndGlyphs" >30</text>
<text x="392.5" y="766.7" font-family="Liberation Sans" font-size="18.2" font-weight="bold" text-anchor="middle" fill="#000" textLength="91" lengthAdjust="spacingAndGlyphs" >Time (min)</text>
<text x="15.9" y="563" font-family="Liberation Sans" font-size="18" font-weight="bold" text-anchor="middle" fill="#000" textLength="42" lengthAdjust="spacingAndGlyphs" transform="rotate(-90 15.9 563)" >mAU</text>
<text x="6.5" y="434.1" font-family="Liberation Sans" font-size="17.8" font-weight="bold" text-anchor="start" fill="#000" textLength="11.3" lengthAdjust="spacingAndGlyphs" >b</text>
<clipPath id="cp8"><rect x="343" y="524" width="13" height="82"/></clipPath>
<path d="M343.1,674.8 L344.9,656.1 L346.4,654.3 L346.6,605.7 L347,564.7 L347.7,523.6 L348.1,507.7 L349.6,523.6 L350.5,605.7 L352,606.7 L352.4,654.3 L353.3,656.1 L354.3,669.2 Z" fill="#5b6398" fill-opacity="1.0" stroke="none" clip-path="url(#cp8)"/>
<clipPath id="cp9"><rect x="165" y="592" width="15" height="60"/></clipPath>
<path d="M165.7,675 L168,664 L169.4,652 L169.9,592.5 L170.9,586.5 L171.4,550.8 L172.3,575 L173.2,595.5 L173.5,652 L175.4,659.5 L177.6,670 L179.9,677.3 Z" fill="#5b6398" fill-opacity="1.0" stroke="none" clip-path="url(#cp9)"/>
<clipPath id="cp10"><rect x="152.5" y="640" width="5" height="15"/></clipPath>
<path d="M153.5,650 L154.6,638.6 L156,649 L157.5,659.5 Z" fill="#5b6398" fill-opacity="1.0" stroke="none" clip-path="url(#cp10)"/>
<path d="M59.5,683 L122,683 L123,684.3 L141.9,684.3 L144.9,677.3 L145.6,664 L147.1,655 L149.3,649.8 L150.8,653.5 L152.3,661 L153.5,650 L154.6,638.6 L156,649 L157.5,659.5 L159,669.9 L161.3,673.6 L163.5,672 L165.7,675 L168,664 L169.4,652 L169.9,592.5 L170.9,586.5 L171.4,550.8 L172.3,575 L173.2,595.5 L173.5,652 L175.4,659.5 L177.6,670 L179.9,677.3 L182.8,681.8 L188,680.3 L192.5,681.8 L198.5,678.8 L202.9,677.3 L204.5,667 L205.9,654.3 L207.4,665.4 L208.9,676.6 L214.8,678 L219.3,680.3 L223.2,678.9 L228,681.6 L232.8,681.6 L236,676 L238.4,671.2 L240,675.2 L242.4,680 L245.6,675.2 L249.6,672 L252,674.4 L254.4,672.8 L257.6,675.2 L261.6,671.2 L264.8,672 L268,668 L270.4,672 L273.6,668.8 L276,671.2 L279.2,667.7 L281.6,666.4 L283.2,669.6 L286.4,673.6 L290.4,674.4 L293.6,670.4 L297.6,675.2 L301.6,675.2 L306.4,669.9 L310.4,673.6 L316,676 L320,674.4 L322.4,667.2 L324.8,659.2 L326.4,667.2 L328.8,674.4 L332,675.7 L343.1,674.8 L344.9,656.1 L346.4,654.3 L346.6,605.7 L347,564.7 L347.7,523.6 L348.1,507.7 L349.6,523.6 L350.5,605.7 L352,606.7 L352.4,654.3 L353.3,656.1 L354.3,669.2 L358,674.8 L364.5,675.7 L367.3,673.9 L373.9,675.7 L380,669.6 L384.1,673.9 L398.1,673.9 L402.8,663.2 L406.5,671.1 L409.3,673.9 L416.8,675.7 L421.5,673.9 L424.8,661.7 L427.1,665.5 L429.9,667.3 L433.6,673.9 L447.6,673.9 L455.1,670.1 L460.7,673.9 L467.5,672.5 L470.7,665 L472.8,670.4 L479.2,673.6 L484.5,673.6 L488.8,669.3 L490.9,666.1 L493.1,670.4 L495.2,667.2 L497.3,664 L498.8,661.9 L500.5,667.8 L503.7,668.3 L505.9,671.5 L510.1,674.7 L517.6,675.1 L521.9,674.2 L525.1,676.4 L534.7,675.7 L553.9,674.7 L560.3,677.2 L579.5,677.2 L584.8,675.7 L588,672.1 L590.6,674.7 L593.3,673 L596.5,676.8 L602.9,679.4 L610,678.5 L620,679 L625,681 L631,679 L637,677.6 L646,680 L684,680 L686.4,677.6 L690,680 L712,680.6 L715,682 L718,680 L722,682 L729.6,681.6" fill="none" stroke="#141428" stroke-width="2.1" stroke-linejoin="round" stroke-linecap="round" />
<text x="293.7" y="663.2" font-family="Liberation Serif" font-size="22.19" font-weight="bold" text-anchor="middle" fill="#000" textLength="7" lengthAdjust="spacingAndGlyphs" stroke="#000" stroke-width="0.7">1</text>
<text x="489.85" y="660.9" font-family="Liberation Serif" font-size="22.63" font-weight="bold" text-anchor="middle" fill="#000" textLength="8.7" lengthAdjust="spacingAndGlyphs" stroke="#000" stroke-width="0.3">3</text>
<text x="584.15" y="666.9" font-family="Liberation Serif" font-size="20.56" font-weight="bold" text-anchor="middle" fill="#000" textLength="8.5" lengthAdjust="spacingAndGlyphs" stroke="#000" stroke-width="0.3">5</text>
<text x="596.4" y="668.5" font-family="Liberation Serif" font-size="22.19" font-weight="bold" text-anchor="middle" fill="#000" textLength="9" lengthAdjust="spacingAndGlyphs" stroke="#000" stroke-width="0.3">6</text>
</g>
<g id="panelC">
<line x1="60.3" y1="784" x2="60.3" y2="1098.5" stroke="#111" stroke-width="2.4"/>
<line x1="59" y1="1094" x2="722" y2="1094" stroke="#111" stroke-width="2.0"/>
<line x1="56.1" y1="791.65" x2="60.3" y2="791.65" stroke="#111" stroke-width="2.2"/>
<line x1="53.8" y1="801.3" x2="60.3" y2="801.3" stroke="#111" stroke-width="2.2"/>
<line x1="56.1" y1="810.95" x2="60.3" y2="810.95" stroke="#111" stroke-width="2.2"/>
<line x1="56.1" y1="820.6" x2="60.3" y2="820.6" stroke="#111" stroke-width="2.2"/>
<line x1="56.1" y1="830.25" x2="60.3" y2="830.25" stroke="#111" stroke-width="2.2"/>
<line x1="56.1" y1="839.9" x2="60.3" y2="839.9" stroke="#111" stroke-width="2.2"/>
<line x1="53.8" y1="849.55" x2="60.3" y2="849.55" stroke="#111" stroke-width="2.2"/>
<line x1="56.1" y1="859.2" x2="60.3" y2="859.2" stroke="#111" stroke-width="2.2"/>
<line x1="56.1" y1="868.85" x2="60.3" y2="868.85" stroke="#111" stroke-width="2.2"/>
<line x1="56.1" y1="878.5" x2="60.3" y2="878.5" stroke="#111" stroke-width="2.2"/>
<line x1="56.1" y1="888.15" x2="60.3" y2="888.15" stroke="#111" stroke-width="2.2"/>
<line x1="53.8" y1="897.8" x2="60.3" y2="897.8" stroke="#111" stroke-width="2.2"/>
<line x1="56.1" y1="907.45" x2="60.3" y2="907.45" stroke="#111" stroke-width="2.2"/>
<line x1="56.1" y1="917.1" x2="60.3" y2="917.1" stroke="#111" stroke-width="2.2"/>
<line x1="56.1" y1="926.75" x2="60.3" y2="926.75" stroke="#111" stroke-width="2.2"/>
<line x1="56.1" y1="936.4" x2="60.3" y2="936.4" stroke="#111" stroke-width="2.2"/>
<line x1="53.8" y1="946.05" x2="60.3" y2="946.05" stroke="#111" stroke-width="2.2"/>
<line x1="56.1" y1="955.7" x2="60.3" y2="955.7" stroke="#111" stroke-width="2.2"/>
<line x1="56.1" y1="965.35" x2="60.3" y2="965.35" stroke="#111" stroke-width="2.2"/>
<line x1="56.1" y1="975" x2="60.3" y2="975" stroke="#111" stroke-width="2.2"/>
<line x1="56.1" y1="984.65" x2="60.3" y2="984.65" stroke="#111" stroke-width="2.2"/>
<line x1="53.8" y1="994.3" x2="60.3" y2="994.3" stroke="#111" stroke-width="2.2"/>
<line x1="56.1" y1="1003.95" x2="60.3" y2="1003.95" stroke="#111" stroke-width="2.2"/>
<line x1="56.1" y1="1013.6" x2="60.3" y2="1013.6" stroke="#111" stroke-width="2.2"/>
<line x1="56.1" y1="1023.25" x2="60.3" y2="1023.25" stroke="#111" stroke-width="2.2"/>
<line x1="56.1" y1="1032.9" x2="60.3" y2="1032.9" stroke="#111" stroke-width="2.2"/>
<line x1="53.8" y1="1042.55" x2="60.3" y2="1042.55" stroke="#111" stroke-width="2.2"/>
<line x1="56.1" y1="1052.2" x2="60.3" y2="1052.2" stroke="#111" stroke-width="2.2"/>
<line x1="56.1" y1="1061.85" x2="60.3" y2="1061.85" stroke="#111" stroke-width="2.2"/>
<line x1="56.1" y1="1071.5" x2="60.3" y2="1071.5" stroke="#111" stroke-width="2.2"/>
<line x1="56.1" y1="1081.15" x2="60.3" y2="1081.15" stroke="#111" stroke-width="2.2"/>
<line x1="53.8" y1="1090.8" x2="60.3" y2="1090.8" stroke="#111" stroke-width="2.2"/>
<line x1="61" y1="1094" x2="61" y2="1099.5" stroke="#111" stroke-width="1.6"/>
<line x1="82.47" y1="1094" x2="82.47" y2="1097" stroke="#111" stroke-width="1.6"/>
<line x1="103.94" y1="1094" x2="103.94" y2="1097" stroke="#111" stroke-width="1.6"/>
<line x1="125.41" y1="1094" x2="125.41" y2="1097" stroke="#111" stroke-width="1.6"/>
<line x1="146.88" y1="1094" x2="146.88" y2="1097" stroke="#111" stroke-width="1.6"/>
<line x1="168.35" y1="1094" x2="168.35" y2="1099.5" stroke="#111" stroke-width="1.6"/>
<line x1="189.82" y1="1094" x2="189.82" y2="1097" stroke="#111" stroke-width="1.6"/>
<line x1="211.29" y1="1094" x2="211.29" y2="1097" stroke="#111" stroke-width="1.6"/>
<line x1="232.76" y1="1094" x2="232.76" y2="1097" stroke="#111" stroke-width="1.6"/>
<line x1="254.23" y1="1094" x2="254.23" y2="1097" stroke="#111" stroke-width="1.6"/>
<line x1="275.7" y1="1094" x2="275.7" y2="1099.5" stroke="#111" stroke-width="1.6"/>
<line x1="297.17" y1="1094" x2="297.17" y2="1097" stroke="#111" stroke-width="1.6"/>
<line x1="318.64" y1="1094" x2="318.64" y2="1097" stroke="#111" stroke-width="1.6"/>
<line x1="340.11" y1="1094" x2="340.11" y2="1097" stroke="#111" stroke-width="1.6"/>
<line x1="361.58" y1="1094" x2="361.58" y2="1097" stroke="#111" stroke-width="1.6"/>
<line x1="383.05" y1="1094" x2="383.05" y2="1099.5" stroke="#111" stroke-width="1.6"/>
<line x1="404.52" y1="1094" x2="404.52" y2="1097" stroke="#111" stroke-width="1.6"/>
<line x1="425.99" y1="1094" x2="425.99" y2="1097" stroke="#111" stroke-width="1.6"/>
<line x1="447.46" y1="1094" x2="447.46" y2="1097" stroke="#111" stroke-width="1.6"/>
<line x1="468.93" y1="1094" x2="468.93" y2="1097" stroke="#111" stroke-width="1.6"/>
<line x1="490.4" y1="1094" x2="490.4" y2="1099.5" stroke="#111" stroke-width="1.6"/>
<line x1="511.87" y1="1094" x2="511.87" y2="1097" stroke="#111" stroke-width="1.6"/>
<line x1="533.34" y1="1094" x2="533.34" y2="1097" stroke="#111" stroke-width="1.6"/>
<line x1="554.81" y1="1094" x2="554.81" y2="1097" stroke="#111" stroke-width="1.6"/>
<line x1="576.28" y1="1094" x2="576.28" y2="1097" stroke="#111" stroke-width="1.6"/>
<line x1="597.75" y1="1094" x2="597.75" y2="1099.5" stroke="#111" stroke-width="1.6"/>
<line x1="619.22" y1="1094" x2="619.22" y2="1097" stroke="#111" stroke-width="1.6"/>
<line x1="640.69" y1="1094" x2="640.69" y2="1097" stroke="#111" stroke-width="1.6"/>
<line x1="662.16" y1="1094" x2="662.16" y2="1097" stroke="#111" stroke-width="1.6"/>
<line x1="683.63" y1="1094" x2="683.63" y2="1097" stroke="#111" stroke-width="1.6"/>
<line x1="705.1" y1="1094" x2="705.1" y2="1099.5" stroke="#111" stroke-width="1.6"/>
<text x="48" y="808.2" font-family="Liberation Sans" font-size="11" font-weight="bold" text-anchor="end" fill="#111" textLength="8.2" lengthAdjust="spacingAndGlyphs" >0</text>
<text x="48" y="852.4" font-family="Liberation Sans" font-size="11" font-weight="bold" text-anchor="end" fill="#111" textLength="20.4" lengthAdjust="spacingAndGlyphs" >-25</text>
<text x="48" y="899.3" font-family="Liberation Sans" font-size="11" font-weight="bold" text-anchor="end" fill="#111" textLength="20.4" lengthAdjust="spacingAndGlyphs" >-50</text>
<text x="48" y="950.7" font-family="Liberation Sans" font-size="11" font-weight="bold" text-anchor="end" fill="#111" textLength="20" lengthAdjust="spacingAndGlyphs" >-75</text>
<text x="48" y="998.1" font-family="Liberation Sans" font-size="11" font-weight="bold" text-anchor="end" fill="#111" textLength="28.3" lengthAdjust="spacingAndGlyphs" >-100</text>
<text x="48" y="1047.6" font-family="Liberation Sans" font-size="11" font-weight="bold" text-anchor="end" fill="#111" textLength="28.3" lengthAdjust="spacingAndGlyphs" >-125</text>
<text x="61" y="1113.4" font-family="Liberation Sans" font-size="13.5" font-weight="bold" text-anchor="middle" fill="#111" textLength="7.5" lengthAdjust="spacingAndGlyphs" >0</text>
<text x="168.35" y="1113.4" font-family="Liberation Sans" font-size="13.5" font-weight="bold" text-anchor="middle" fill="#111" textLength="7.5" lengthAdjust="spacingAndGlyphs" >5</text>
<text x="275.7" y="1113.4" font-family="Liberation Sans" font-size="13.5" font-weight="bold" text-anchor="middle" fill="#111" textLength="14.8" lengthAdjust="spacingAndGlyphs" >10</text>
<text x="383.05" y="1113.4" font-family="Liberation Sans" font-size="13.5" font-weight="bold" text-anchor="middle" fill="#111" textLength="14.8" lengthAdjust="spacingAndGlyphs" >15</text>
<text x="490.4" y="1113.4" font-family="Liberation Sans" font-size="13.5" font-weight="bold" text-anchor="middle" fill="#111" textLength="14.8" lengthAdjust="spacingAndGlyphs" >20</text>
<text x="597.75" y="1113.4" font-family="Liberation Sans" font-size="13.5" font-weight="bold" text-anchor="middle" fill="#111" textLength="14.8" lengthAdjust="spacingAndGlyphs" >25</text>
<text x="705.1" y="1113.4" font-family="Liberation Sans" font-size="13.5" font-weight="bold" text-anchor="middle" fill="#111" textLength="14.8" lengthAdjust="spacingAndGlyphs" >30</text>
<text x="385.4" y="1137.7" font-family="Liberation Sans" font-size="18.6" font-weight="bold" text-anchor="middle" fill="#000" textLength="91.7" lengthAdjust="spacingAndGlyphs" >Time (min)</text>
<text x="19.2" y="945.4" font-family="Liberation Sans" font-size="17.5" font-weight="bold" text-anchor="middle" fill="#000" textLength="42.3" lengthAdjust="spacingAndGlyphs" transform="rotate(-90 19.2 945.4)" >mAU</text>
<text x="6.5" y="797" font-family="Liberation Sans" font-size="19" font-weight="bold" text-anchor="start" fill="#000" >c</text>
<clipPath id="cp11"><rect x="151.5" y="862" width="7" height="50"/></clipPath>
<path d="M151.6,900 L151.6,936.4 L152.6,938.7 L152.8,963.7 L153.1,940 L152.8,882.8 L153.3,863.2 L154,840 L154.3,792.7 L155.2,808 L155.9,840 L155.9,910.8 L158.2,912.5 L158.2,977.3 Z" fill="#5b6398" fill-opacity="1.0" stroke="none" clip-path="url(#cp11)"/>
<clipPath id="cp12"><rect x="145" y="872" width="5.5" height="30"/></clipPath>
<path d="M145.4,960.3 L146.3,958 L146.3,878.6 L147.2,852 L148.2,847.1 L149.6,852 L149.6,882.8 Z" fill="#5b6398" fill-opacity="1.0" stroke="none" clip-path="url(#cp12)"/>
<clipPath id="cp13"><rect x="171.5" y="973" width="6" height="37"/></clipPath>
<path d="M172.1,1009.2 L172.7,975 L173.8,973.9 L174.5,917.6 L174.8,889.3 L176,919.1 L176.7,973.9 L177.2,1009.2 Z" fill="#5b6398" fill-opacity="1.0" stroke="none" clip-path="url(#cp13)"/>
<clipPath id="cp14"><rect x="192" y="968" width="6.5" height="45"/></clipPath>
<path d="M193.1,977.1 L194.6,956.3 L195.6,950.4 L196.5,977.1 L197.5,1012.9 Z" fill="#5b6398" fill-opacity="1.0" stroke="none" clip-path="url(#cp14)"/>
<clipPath id="cp15"><rect x="206.5" y="990" width="5" height="29"/></clipPath>
<path d="M206.5,1017.3 L207.9,992 L208.4,944.4 L209.4,934.7 L210.2,992 L211.4,1018.8 Z" fill="#5b6398" fill-opacity="1.0" stroke="none" clip-path="url(#cp15)"/>
<clipPath id="cp16"><rect x="231.5" y="996" width="6" height="24"/></clipPath>
<path d="M231.8,1021.8 L233.2,998 L235.2,974.2 L236.2,998 Z" fill="#5b6398" fill-opacity="1.0" stroke="none" clip-path="url(#cp16)"/>
<clipPath id="cp17"><rect x="261.5" y="976" width="6.5" height="27"/></clipPath>
<path d="M261.5,1006.9 L263.3,978.7 L265.3,948 L266.9,957.3 L268,997.3 Z" fill="#5b6398" fill-opacity="1.0" stroke="none" clip-path="url(#cp17)"/>
<clipPath id="cp18"><rect x="340.5" y="884" width="8.5" height="94"/></clipPath>
<path d="M340.7,982.7 L342.7,977.3 L343.3,900 L344.4,860 L345,818.7 L346.2,860 L347.3,900 L347.3,976 L348.7,978.7 L348.7,1002.7 Z" fill="#5b6398" fill-opacity="1.0" stroke="none" clip-path="url(#cp18)"/>
<path d="M67.5,1038.7 L74,1039.2 L82.4,1041.5 L93.6,1044.3 L112.3,1045.6 L121.6,1043.3 L126.3,1037.7 L130.9,1028.4 L135.6,1020.9 L138.4,1019.4 L141.4,1021.1 L143.1,1017.1 L143.1,1008 L144.8,1004.6 L145.4,960.3 L146.3,958 L146.3,878.6 L147.2,852 L148.2,847.1 L149.6,852 L149.6,882.8 L151.6,900 L151.6,936.4 L152.6,938.7 L152.8,963.7 L153.1,940 L152.8,882.8 L153.3,863.2 L154,840 L154.3,792.7 L155.2,808 L155.9,840 L155.9,910.8 L158.2,912.5 L158.2,977.3 L159.6,980.7 L159.6,996.6 L161.9,1000 L163.3,994 L163,1000 L165.3,1002.3 L165.9,1012.6 L168.7,1014.8 L171,1017.1 L172.1,1009.2 L172.7,975 L173.8,973.9 L174.5,917.6 L174.8,889.3 L176,919.1 L176.7,973.9 L177.2,1009.2 L178.4,1025.5 L181.2,1027 L184.9,1015.8 L187.9,1006.9 L189.3,999.5 L191.6,989 L193.1,977.1 L194.6,956.3 L195.6,950.4 L196.5,977.1 L197.5,1012.9 L199.8,1024.8 L203.5,1021.8 L206.5,1017.3 L207.9,992 L208.4,944.4 L209.4,934.7 L210.2,992 L211.4,1018.8 L214.6,1026.3 L219.1,1023.3 L222.1,1013.6 L224.3,1023.3 L228.8,1026.3 L231.8,1021.8 L233.2,998 L235.2,974.2 L236.2,998 L238.5,1018.8 L239.6,1024.8 L241.4,1015.8 L244.4,1012.9 L248.1,1003.9 L251.1,1011.4 L255.6,1002.4 L258.5,999.5 L261.5,1006.9 L263.3,978.7 L265.3,948 L266.9,957.3 L268,997.3 L270.7,1008 L272.3,998.7 L273.3,980 L274.7,985.3 L276,1005.3 L278,1012 L281.3,1009.3 L284.7,1010.7 L286,997.3 L287.3,996 L288,1008 L292,1016.7 L296,1014 L300,1008 L303.3,1005.3 L306,1012 L308,1014.7 L309.3,1005.3 L310.4,980 L312,989.3 L313.3,1013.3 L315.3,1017.3 L318,1013.3 L319.3,973.3 L320,972 L321.3,1002.7 L323.3,1006.7 L325.3,1014.7 L330,1020 L334.7,1017.3 L338,1013.3 L338.7,1002.7 L340,986.7 L340.7,982.7 L342.7,977.3 L343.3,900 L344.4,860 L345,818.7 L346.2,860 L347.3,900 L347.3,976 L348.7,978.7 L348.7,1002.7 L352,1013.3 L356,1017.3 L361.4,1018 L366.2,1015.6 L371,1011.6 L374.2,1002 L376.6,1014.8 L380.6,1016.4 L385.4,1016.7 L390.2,1015.6 L395,1010 L397.4,1003.5 L398.4,992 L399,987.6 L399.7,992 L400.6,1002.6 L403,1010.8 L407.8,1016.4 L413.4,1015.6 L416.6,1012.4 L420.6,1017.2 L428.6,1017.2 L435,1015.6 L438.2,1014.8 L442.2,1010.8 L445.4,1012.4 L449.4,1017.2 L452.6,1013.2 L455.8,1006 L459,1011.6 L462.2,1013.2 L465,1017.2 L468.2,1014.8 L472.2,1019.6 L475.4,1010 L477.8,1000.4 L480.2,1008.4 L481.8,1011.6 L484.2,1016.4 L486.6,1006.8 L489,1010 L490.6,994 L492.2,981.2 L493.5,994 L494.6,1013.2 L497,1018 L499.4,1022 L501.6,1024.4 L504.8,1016.7 L507.2,1022 L511.2,1024.7 L519.2,1024.1 L525.6,1026.3 L529.6,1026.3 L532.8,1025.2 L539.2,1027.6 L546.4,1026 L552.8,1026.8 L560.8,1030 L567.2,1029.2 L573.6,1031.6 L578.5,1028.5 L581.6,1026.8 L587.2,1030 L594.4,1030.8 L602.4,1033.7 L610.4,1033.4 L616.4,1035.2 L622.8,1033.1 L630.8,1035.2 L642,1035.2 L651.6,1036.8 L658,1036 L663.6,1034.1 L670.8,1036.3 L677.2,1035.7 L685.2,1034.7 L690,1037.6 L699.6,1037.6 L709.2,1038.4 L712.4,1039.5 L717.2,1036 L722,1038.9" fill="none" stroke="#141432" stroke-width="2.1" stroke-linejoin="round" stroke-linecap="round" />
<text x="287" y="985" font-family="Liberation Serif" font-size="27.07" font-weight="bold" text-anchor="middle" fill="#000" textLength="8" lengthAdjust="spacingAndGlyphs" stroke="#000" stroke-width="0.2">1</text>
<text x="581.95" y="1018.4" font-family="Liberation Serif" font-size="28.11" font-weight="bold" text-anchor="middle" fill="#000" textLength="9.3" lengthAdjust="spacingAndGlyphs" stroke="#000" stroke-width="0.2">6</text>
<text x="663.45" y="1024.3" font-family="Liberation Serif" font-size="22.78" font-weight="bold" text-anchor="middle" fill="#000" textLength="9.5" lengthAdjust="spacingAndGlyphs" stroke="#000" stroke-width="0.2">7</text>
<text x="455.4" y="997" font-family="Liberation Sans" font-size="26.12" font-weight="normal" text-anchor="middle" fill="#000" textLength="8.4" lengthAdjust="spacingAndGlyphs" stroke="#000" stroke-width="0.5">2</text>
<text x="492.55" y="967.5" font-family="Liberation Sans" font-size="25.98" font-weight="normal" text-anchor="middle" fill="#000" textLength="8.9" lengthAdjust="spacingAndGlyphs" stroke="#000" stroke-width="0.5">3</text>
<circle cx="295.6" cy="962.1" r="0.8" fill="#a89880"/>
<circle cx="295.6" cy="975.7" r="0.8" fill="#8a8080"/>
</g>
</svg>
</body></html>
